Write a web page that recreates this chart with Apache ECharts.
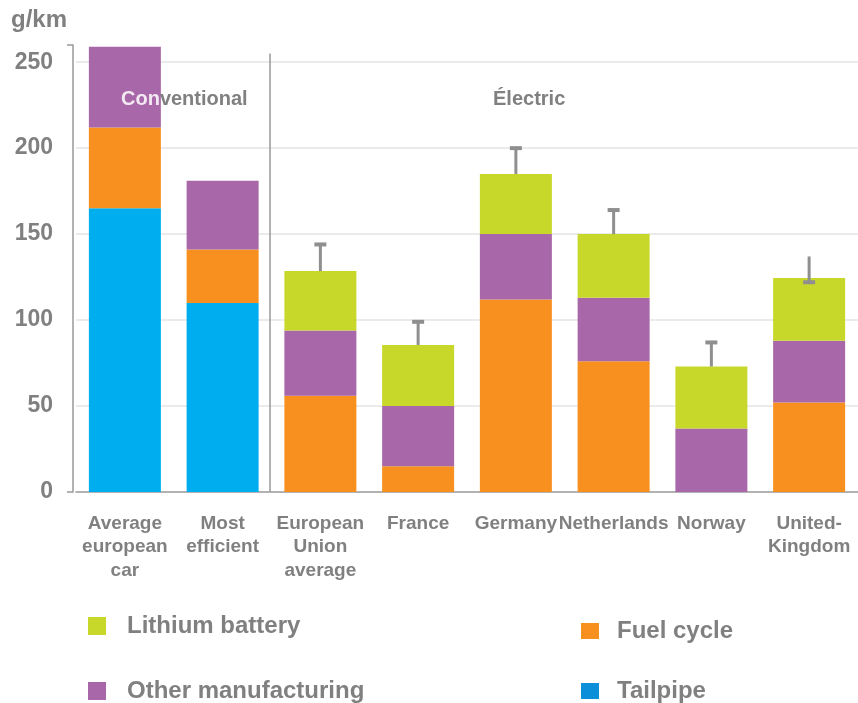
<!DOCTYPE html>
<html lang="en">
<head>
    <meta charset="UTF-8">
    <title>CO2 emissions per km</title>
    <style>
        body{
            margin: 0;
            overflow: hidden;
        }
    </style>
</head>
<body>
<div id="main" style="width: 858px;height:703px;"></div>
<script src="https://cdn.jsdelivr.net/npm/echarts@6/dist/echarts.min.js"></script>
<script type="text/javascript">
    // values, g/km
    var categories = ['Average\neuropean\ncar', 'Most\nefficient', 'European\nUnion\naverage', 'France', 'Germany', 'Netherlands', 'Norway', 'United-\nKingdom'];
    var tailpipe = [165, 110, 0, 0, 0, 0, 0, 0];
    var fuelCycle = [47, 31, 56, 15, 112, 76, 0, 52];
    var otherManufacturing = [47, 40, 38, 35, 38, 37, 37, 36];
    var lithiumBattery = [0, 0, 34.5, 35.5, 35, 37, 36, 36.5];
    // error bars: line from errFrom to errTo, cap at errTo
    var errFrom = [null, null, 128.5, 85.5, 185, 150, 73, 137];
    var errTo = [null, null, 144, 99, 200, 164, 87, 122];
    var yTicks = [0, 50, 100, 150, 200, 250];
    var yMax = 260;
    // conventional / electric separator, drawn after category index 1
    var separatorAfter = 1;
    var separatorTop = 255;

    var grey = '#808080';
    var font = '"Liberation Sans", Arial, sans-serif';

    var myChart = echarts.init(document.getElementById('main'));

    var errData = [];
    for (var i = 0; i < categories.length; i++) {
        if (errTo[i] != null) errData.push([i, errFrom[i], errTo[i]]);
    }

    var barBase = {
        type: 'bar',
        stack: 'total',
        barWidth: 72,
        z: 2
    };

    var option = {
        animation: false,
        textStyle: {fontFamily: font},
        grid: {left: 76, width: 786, top: 45, bottom: 211},
        legend: [
            {
                orient: 'vertical',
                left: 83, top: 609, height: 120,
                itemWidth: 18, itemHeight: 18, itemGap: 41,
                icon: 'rect',
                textStyle: {color: grey, fontSize: 24, fontWeight: 'bold', padding: [0, 0, 0, 16]},
                data: ['Lithium battery', 'Other manufacturing']
            },
            {
                orient: 'vertical',
                left: 576, top: 614, height: 120,
                itemWidth: 18, itemHeight: 16, itemGap: 36,
                icon: 'rect',
                textStyle: {color: grey, fontSize: 24, fontWeight: 'bold', padding: [0, 0, 0, 13]},
                data: ['Fuel cycle', {name: 'Tailpipe', itemStyle: {color: '#0b8fd8'}}]
            }
        ],
        xAxis: {
            type: 'category',
            data: categories,
            axisLine: {lineStyle: {color: '#999', width: 1.5}},
            axisTick: {show: false},
            axisLabel: {
                interval: 0, margin: 20, color: grey,
                fontSize: 19, fontWeight: 'bold', lineHeight: 23.5
            },
            splitLine: {show: false}
        },
        yAxis: {
            type: 'value',
            min: 0, max: yMax,
            offset: 3,
            axisLine: {show: true, lineStyle: {color: '#999', width: 1.5}},
            axisTick: {show: true, length: 6, customValues: [0, yMax], lineStyle: {color: '#999', width: 1.5}},
            axisLabel: {customValues: yTicks, margin: 20, color: grey, fontSize: 23, fontWeight: 'bold'},
            splitLine: {show: false}
        },
        graphic: [
            {type: 'text', z: 100, left: 11, top: 8, style: {text: 'g/km', fill: grey, font: 'bold 24px ' + font}},
            {
                type: 'text', z: 100, left: 121, top: 89,
                style: {
                    text: '{w|Con}{g|ventional}',
                    rich: {
                        w: {fill: '#f3e9f3', font: 'bold 20px ' + font},
                        g: {fill: grey, font: 'bold 20px ' + font}
                    }
                }
            },
            {type: 'text', z: 100, left: 493, top: 89, style: {text: 'Électric', fill: grey, font: 'bold 20px ' + font}}
        ],
        series: [
            Object.assign({}, barBase, {
                name: 'Tailpipe', data: tailpipe, itemStyle: {color: '#00aeef'},
                markLine: {
                    silent: true, symbol: 'none', z: 1,
                    label: {show: false},
                    lineStyle: {color: '#e4e4e4', width: 1.5, type: 'solid'},
                    data: yTicks.filter(function (v) { return v > 0; }).map(function (v) { return {yAxis: v}; })
                }
            }),
            Object.assign({}, barBase, {name: 'Fuel cycle', data: fuelCycle, itemStyle: {color: '#f7901e'}}),
            Object.assign({}, barBase, {name: 'Other manufacturing', data: otherManufacturing, itemStyle: {color: '#a867a8'}}),
            Object.assign({}, barBase, {name: 'Lithium battery', data: lithiumBattery, itemStyle: {color: '#c8d82a'}}),
            {
                type: 'custom',
                name: 'separator',
                z: 1,
                silent: true,
                data: [[separatorAfter, separatorTop]],
                renderItem: function (params, api) {
                    var idx = api.value(0);
                    var top = api.coord([idx, api.value(1)]);
                    var bottom = api.coord([idx, 0]);
                    var half = api.size([1, 0])[0] / 2;
                    var x = top[0] + half - 1.5;
                    return {
                        type: 'line',
                        shape: {x1: x, y1: top[1], x2: x, y2: bottom[1]},
                        style: {stroke: '#999', lineWidth: 1.5}
                    };
                }
            },
            {
                type: 'custom',
                name: 'error',
                z: 5,
                data: errData,
                renderItem: function (params, api) {
                    var x = api.value(0);
                    var p1 = api.coord([x, api.value(1)]);
                    var p2 = api.coord([x, api.value(2)]);
                    var c = '#8f8f8f';
                    return {
                        type: 'group',
                        children: [
                            {type: 'line', shape: {x1: p1[0], y1: p1[1], x2: p2[0], y2: p2[1]}, style: {stroke: c, lineWidth: 3}},
                            {type: 'rect', shape: {x: p2[0] - 6, y: p2[1] - 2, width: 12, height: 4}, style: {fill: c}}
                        ]
                    };
                }
            }
        ]
    };
    option && myChart.setOption(option);
</script>
</body>
</html>
